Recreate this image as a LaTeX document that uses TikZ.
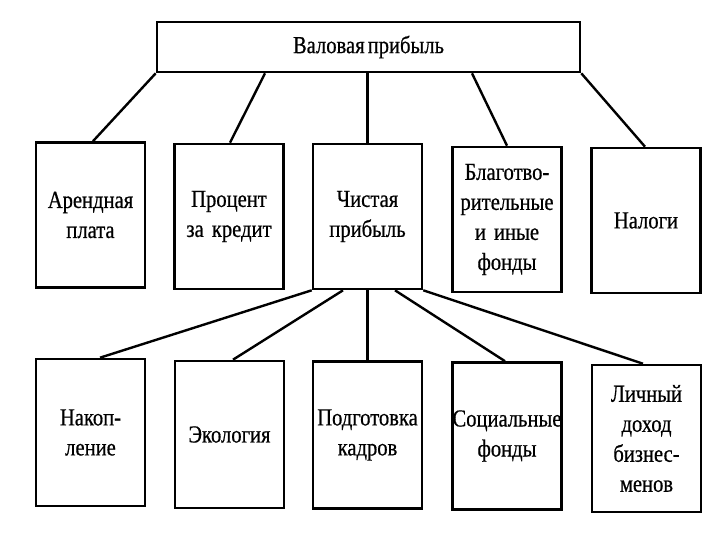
\documentclass[tikz,border=0pt]{standalone}
\usepackage{fontspec}
\setmainfont{Liberation Serif}[FakeStretch=0.84,FakeBold=0.6,WordSpace=0.6]
\usetikzlibrary{calc}
\begin{document}
\begin{tikzpicture}[x=1pt,y=-1pt,
  box/.style={draw, line width=2.6pt, inner sep=0pt, align=center,
    font=\fontsize{24.5}{30}\selectfont},
  smallbox/.style={box, minimum width=109pt, minimum height=145pt, text width=109pt},
  lowbox/.style={box, minimum width=109pt, minimum height=147pt, text width=109pt},
  link/.style={line width=2.4pt}]
\useasboundingbox (0,0) rectangle (720,540);
\fill[white] (0,0) rectangle (720,540);

\node[box, minimum width=423pt, minimum height=50pt] (top) at (368.5,47) {Валовая прибыль};

\node[smallbox] (b1) at (90.5,215) {Арендная\\плата};
\node[smallbox] (b2) at (229,216.5) {Процент\\за кредит};
\node[smallbox] (b3) at (367.5,216.5) {Чистая\\прибыль};
\node[smallbox] (b4) at (507,219.5) {Благотво-\\рительные\\и иные\\фонды};
\node[smallbox] (b5) at (646,220.5) {Налоги};

\node[lowbox] (c1) at (90.5,432.5) {Накоп-\\ление};
\node[lowbox] (c2) at (229.5,434.5) {Экология};
\node[lowbox] (c3) at (367.5,435) {Подготовка\\кадров};
\node[lowbox] (c4) at (507,436) {Социальные\\фонды};
\node[lowbox] (c5) at (646.5,438.5) {Личный\\доход\\бизнес-\\менов};

\draw[link] (top.south west) -- ([xshift=2.5pt]b1.north);
\draw[link] ([xshift=-103.5pt]top.south) -- ([xshift=1pt]b2.north);
\draw[link] ([xshift=-1pt]top.south) -- (b3.north);
\draw[link] ([xshift=103.5pt]top.south) -- (b4.north);
\draw[link] (top.south east) -- ([xshift=-1pt]b5.north);

\draw[link] (b3.south west) -- ([xshift=9.5pt]c1.north);
\draw[link] ([xshift=-24.5pt]b3.south) -- ([xshift=3.5pt]c2.north);
\draw[link] (b3.south) -- (c3.north);
\draw[link] ([xshift=27.5pt]b3.south) -- ([xshift=-2pt]c4.north);
\draw[link] (b3.south east) -- ([xshift=-3.5pt]c5.north);
\end{tikzpicture}
\end{document}
